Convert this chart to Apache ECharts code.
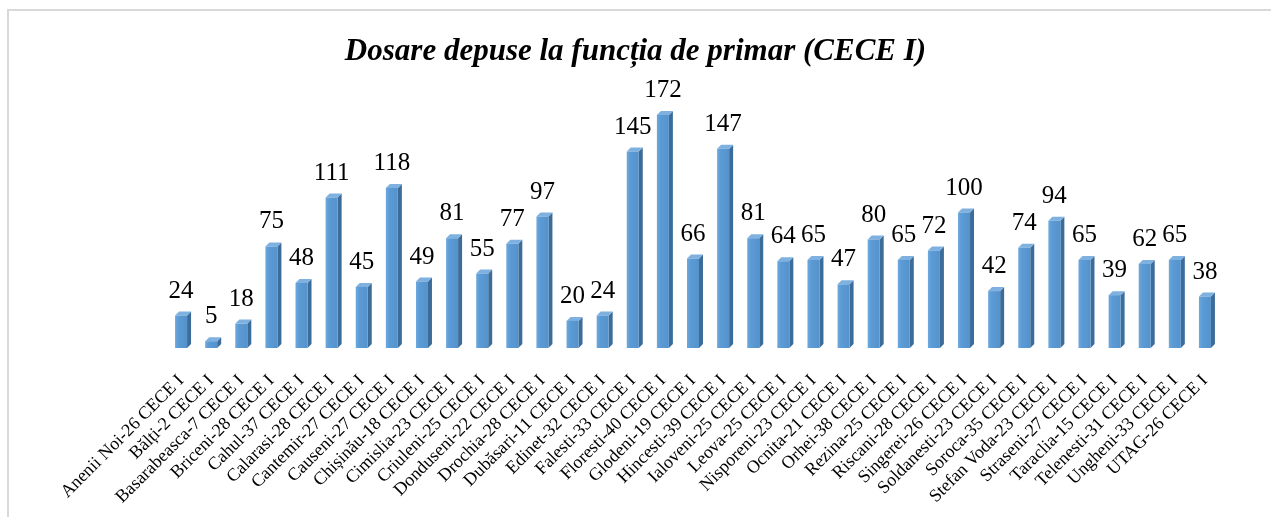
<!DOCTYPE html>
<html>
<head>
<meta charset="utf-8">
<script src="https://cdn.jsdelivr.net/npm/echarts@6/dist/echarts.min.js"></script>
<style>
  html, body { margin: 0; padding: 0; background: #fff; }
  #chart { width: 1271px; height: 517px; }
</style>
</head>
<body>
<div id="chart"></div>
<script>
/* date: dosare depuse pe circumscriptii */
var categories = [
  'Anenii Noi-26 CECE I', 'Bălți-2 CECE I', 'Basarabeasca-7 CECE I', 'Briceni-28 CECE I',
  'Cahul-37 CECE I', 'Calarasi-28 CECE I', 'Cantemir-27 CECE I', 'Causeni-27 CECE I',
  'Chișinău-18 CECE I', 'Cimislia-23 CECE I', 'Criuleni-25 CECE I', 'Donduseni-22 CECE I',
  'Drochia-28 CECE I', 'Dubăsari-11 CECE I', 'Edinet-32 CECE I', 'Falesti-33 CECE I',
  'Floresti-40 CECE I', 'Glodeni-19 CECE I', 'Hincesti-39 CECE I', 'Ialoveni-25 CECE I',
  'Leova-25 CECE I', 'Nisporeni-23 CECE I', 'Ocnita-21 CECE I', 'Orhei-38 CECE I',
  'Rezina-25 CECE I', 'Riscani-28 CECE I', 'Singerei-26 CECE I', 'Soldanesti-23 CECE I',
  'Soroca-35 CECE I', 'Stefan Voda-23 CECE I', 'Straseni-27 CECE I', 'Taraclia-15 CECE I',
  'Telenesti-31 CECE I', 'Ungheni-33 CECE I', 'UTAG-26 CECE I'
];
var values = [
  24, 5, 18, 75, 48, 111, 45, 118, 49, 81, 55, 77, 97, 20, 24, 145, 172, 66,
  147, 81, 64, 65, 47, 80, 65, 72, 100, 42, 74, 94, 65, 39, 62, 65, 38
];
var titleText = 'Dosare depuse la funcția de primar (CECE I)';

var serif = '"Liberation Serif", "DejaVu Serif", serif';
var myChart = echarts.init(document.getElementById('chart'));

/* fetele laterale si de sus (efect 3D) */
function renderDepth(params, api) {
  var top = api.coord([api.value(0), api.value(1)]);
  var base = api.coord([api.value(0), 0]);
  var w = 12, d = 4;
  var x0 = top[0] - w / 2, x1 = top[0] + w / 2;
  return {
    type: 'group',
    children: [
      {
        type: 'polygon',
        shape: { points: [[x1, top[1]], [x1 + d, top[1] - d], [x1 + d, base[1] - d], [x1, base[1]]] },
        style: { fill: '#3c6c99' }
      },
      {
        type: 'polygon',
        shape: { points: [[x0, top[1]], [x0 + d, top[1] - d], [x1 + d, top[1] - d], [x1, top[1]]] },
        style: { fill: '#7eb0e0' }
      }
    ]
  };
}

var option = {
  backgroundColor: '#fff',
  animation: false,
  title: {
    text: titleText,
    left: 'center',
    top: 31,
    textStyle: { fontFamily: serif, fontSize: 31, fontWeight: 'bold', fontStyle: 'italic', color: '#000' }
  },
  graphic: [{
    type: 'rect',
    shape: { x: 8, y: 10, width: 1300, height: 600 },
    style: { fill: null, stroke: '#d9d9d9', lineWidth: 2 }
  }],
  grid: { left: 166, right: 51, top: 77, bottom: 169 },
  xAxis: {
    type: 'category',
    data: categories,
    axisLine: { show: false },
    axisTick: { show: false },
    axisLabel: {
      interval: 0,
      rotate: 45,
      margin: 30,
      fontFamily: serif,
      fontSize: 18,
      color: '#000'
    }
  },
  yAxis: {
    type: 'value',
    min: 0,
    max: 200,
    show: false,
    splitLine: { show: false }
  },
  series: [
    {
      type: 'bar',
      data: values,
      barWidth: 12,
      itemStyle: {
        color: new echarts.graphic.LinearGradient(0, 0, 1, 0, [
          { offset: 0, color: '#6ea8dd' },
          { offset: 0.3, color: '#5b9bd5' },
          { offset: 1, color: '#5592cb' }
        ])
      },
      label: {
        show: true,
        position: 'top',
        distance: 12,
        fontFamily: serif,
        fontSize: 25,
        color: '#000'
      },
      z: 3
    },
    {
      type: 'custom',
      renderItem: renderDepth,
      data: values.map(function (v, i) { return [i, v]; }),
      silent: true,
      z: 2
    }
  ]
};
myChart.setOption(option);
</script>
</body>
</html>
